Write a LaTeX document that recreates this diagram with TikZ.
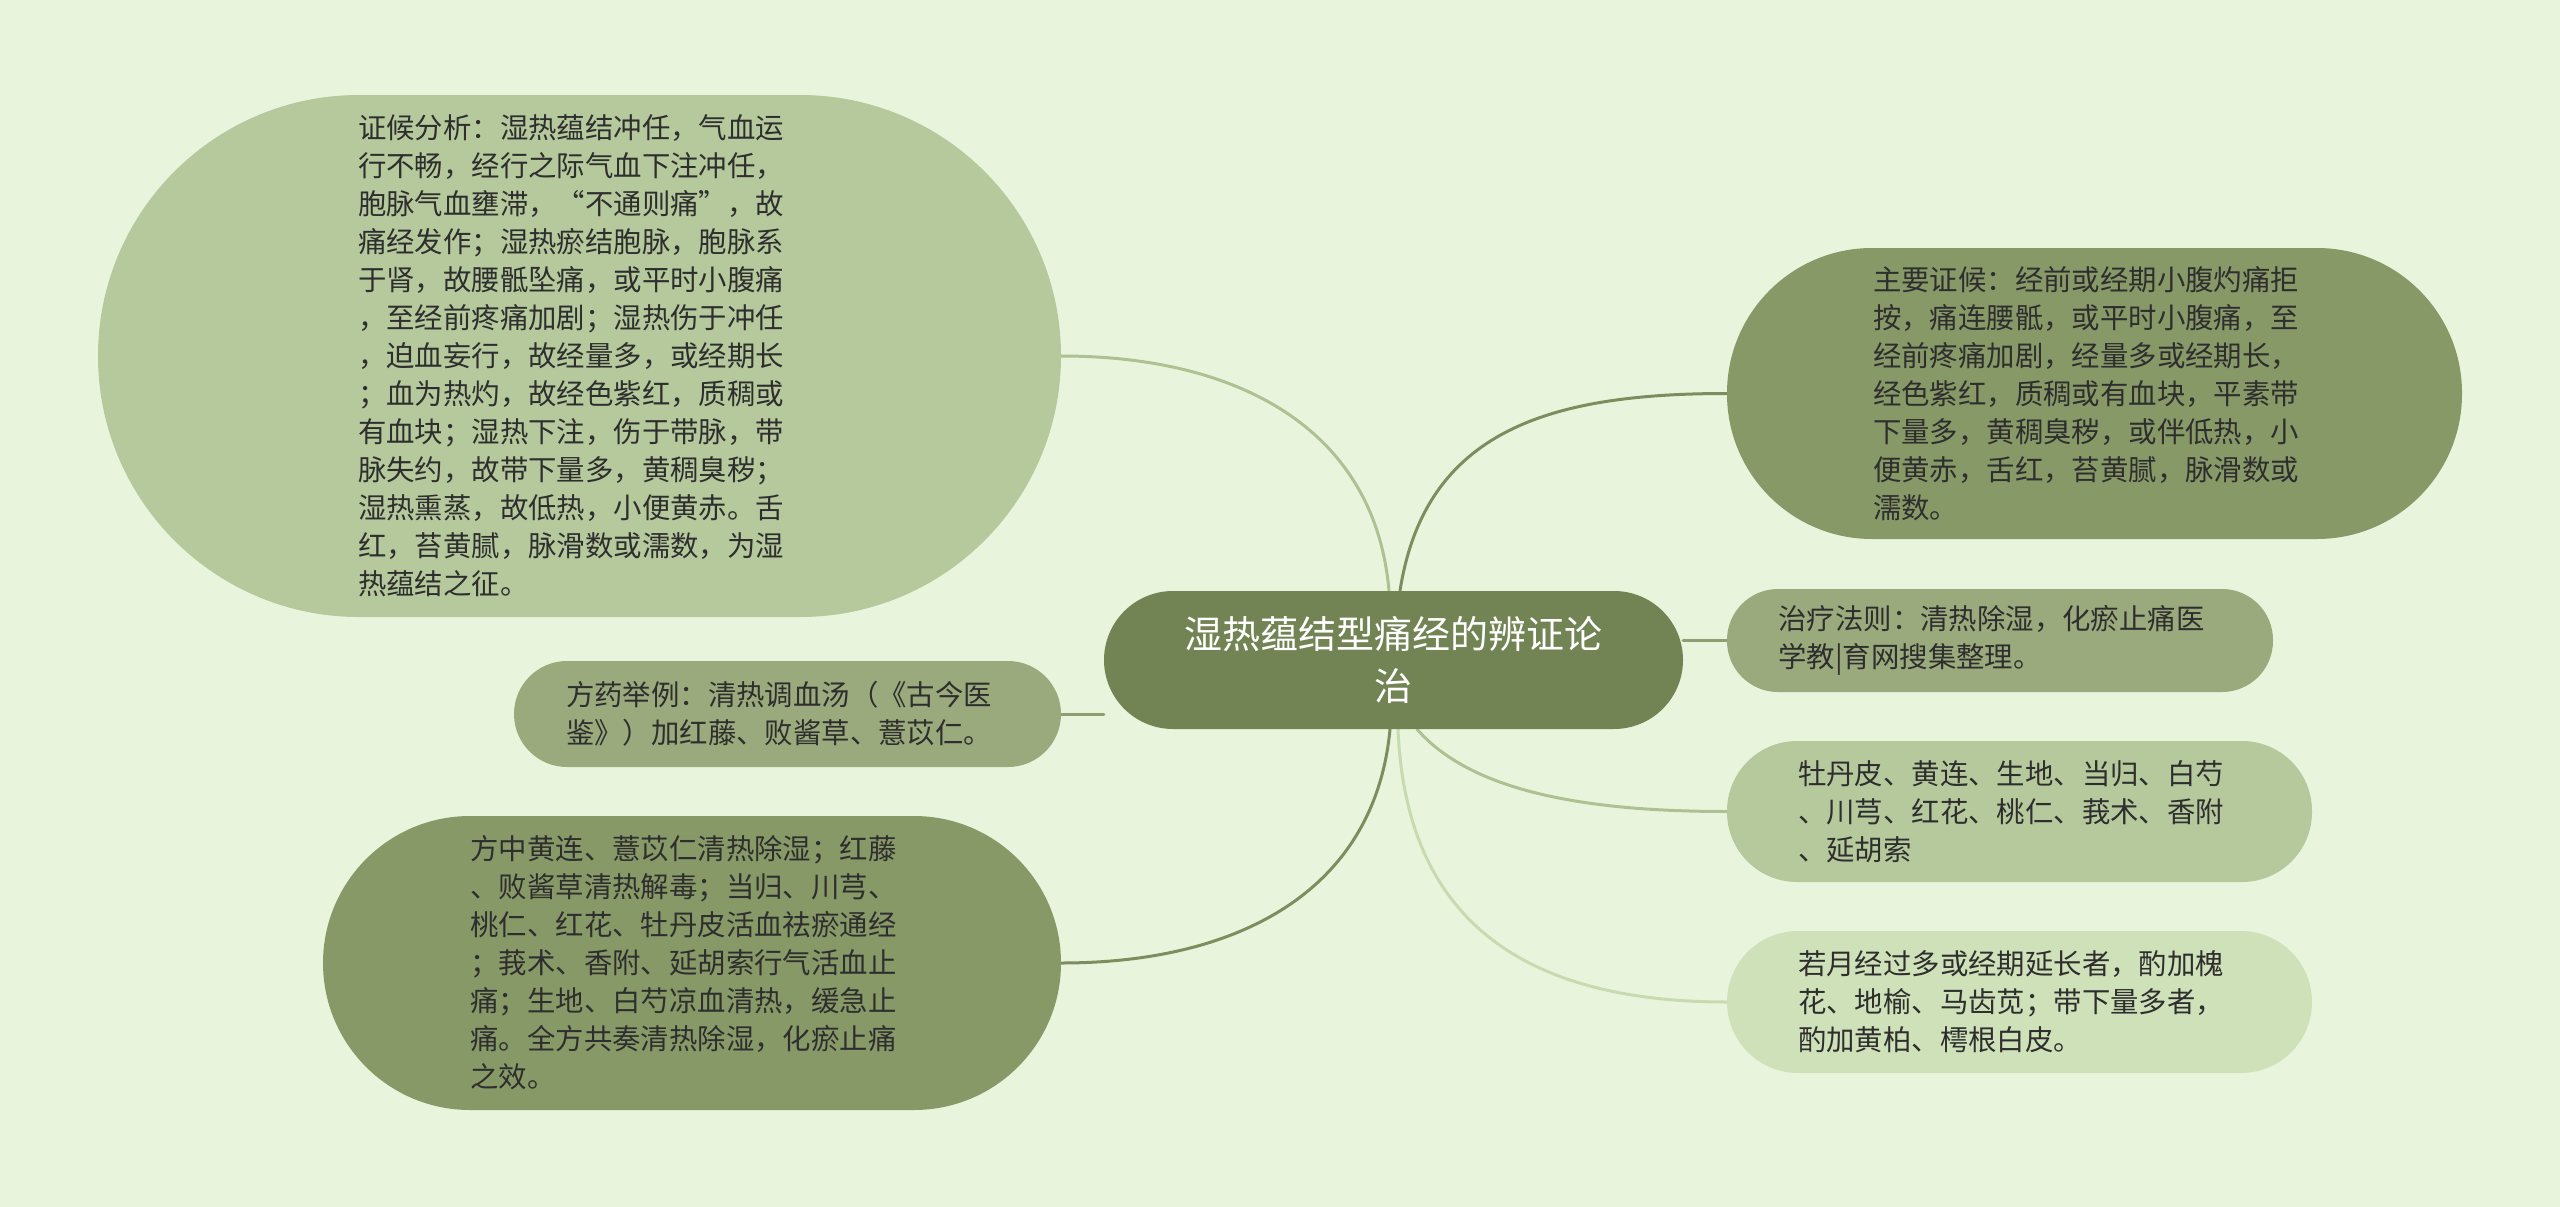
\documentclass[tikz,border=0pt]{standalone}
\usepackage{fontspec}
\newfontfamily\cjk{Noto Sans CJK SC}
\usetikzlibrary{backgrounds}
\definecolor{bgc}{HTML}{E8F5DC}
\definecolor{cdark}{HTML}{728354}
\definecolor{ndark}{HTML}{889968}
\definecolor{nmid}{HTML}{9AAA7C}
\definecolor{nlight}{HTML}{B5C99C}
\definecolor{nlightest}{HTML}{CFE1B9}
\definecolor{ldark}{HTML}{7E8D5E}
\definecolor{lmid}{HTML}{8E9E70}
\definecolor{llight}{HTML}{AEC192}
\definecolor{llightest}{HTML}{C8DAB0}
\definecolor{txt}{HTML}{2E2E2E}
\tikzset{
  pill/.style={rectangle, rounded corners=#1, inner sep=0pt, align=left, text=txt,
    text width=443pt, font=\cjk\fontsize{28.4}{38}\selectfont},
  conn/.style={line width=3pt, line cap=round},
}
\begin{document}
\begin{tikzpicture}[x=1pt,y=-1pt]
\useasboundingbox (0,0) rectangle (2560,1207);
% central node
\node[rectangle, rounded corners=69pt, inner sep=0pt, fill=cdark, text=white, align=center, minimum width=579pt, minimum height=138pt,
  font=\cjk\fontsize{38}{52}\selectfont] (c) at (1393.5,660) {湿热蕴结型痛经的辨证论\\治};
% left nodes
\node[pill=261pt, fill=nlight, minimum width=963pt, minimum height=522pt] (L1) at (579.5,356) {证候分析：湿热蕴结冲任，气血运\\行不畅，经行之际气血下注冲任，\\胞脉气血壅滞，“不通则痛”，故\\痛经发作；湿热瘀结胞脉，胞脉系\\于肾，故腰骶坠痛，或平时小腹痛\\，至经前疼痛加剧；湿热伤于冲任\\，迫血妄行，故经量多，或经期长\\；血为热灼，故经色紫红，质稠或\\有血块；湿热下注，伤于带脉，带\\脉失约，故带下量多，黄稠臭秽；\\湿热熏蒸，故低热，小便黄赤。舌\\红，苔黄腻，脉滑数或濡数，为湿\\热蕴结之征。};
\node[pill=53pt, fill=nmid, minimum width=547pt, minimum height=106pt] (L2) at (787.5,714) {方药举例：清热调血汤（《古今医\\鉴》）加红藤、败酱草、薏苡仁。};
\node[pill=147pt, fill=ndark, minimum width=738pt, minimum height=294pt] (L3) at (692,963) {方中黄连、薏苡仁清热除湿；红藤\\、败酱草清热解毒；当归、川芎、\\桃仁、红花、牡丹皮活血祛瘀通经\\；莪术、香附、延胡索行气活血止\\痛；生地、白芍凉血清热，缓急止\\痛。全方共奏清热除湿，化瘀止痛\\之效。};
% right nodes
\node[pill=145pt, fill=ndark, minimum width=735pt, minimum height=291pt] (R1) at (2094.5,393.5) {主要证候：经前或经期小腹灼痛拒\\按，痛连腰骶，或平时小腹痛，至\\经前疼痛加剧，经量多或经期长，\\经色紫红，质稠或有血块，平素带\\下量多，黄稠臭秽，或伴低热，小\\便黄赤，舌红，苔黄腻，脉滑数或\\濡数。};
\node[pill=51pt, fill=nmid, minimum width=546pt, minimum height=103pt] (R2) at (2000,640.5) {治疗法则：清热除湿，化瘀止痛医\\学教|育网搜集整理。};
\node[pill=70pt, fill=nlight, minimum width=585pt, minimum height=141pt] (R3) at (2019.5,811.5) {牡丹皮、黄连、生地、当归、白芍\\、川芎、红花、桃仁、莪术、香附\\、延胡索};
\node[pill=71pt, fill=nlightest, minimum width=585pt, minimum height=142pt] (R4) at (2019.5,1002) {若月经过多或经期延长者，酌加槐\\花、地榆、马齿苋；带下量多者，\\酌加黄柏、樗根白皮。};
\begin{pgfonlayer}{background}
\fill[bgc] (0,0) rectangle (2560,1207);
\draw[conn, llight] ([xshift=-4.5pt]c.north) .. controls (1375,430) and (1240,356) .. (L1.east);
\draw[conn, lmid] (L2.east) -- (c.west |- L2.east);
\draw[conn, ldark] ([xshift=-3.5pt]c.south) .. controls (1375,890) and (1240,963) .. (L3.east);
\draw[conn, ldark] ([xshift=6.5pt]c.north) .. controls (1425,430) and (1550,393.5) .. (R1.west);
\draw[conn, lmid] (c.east |- R2.west) -- (R2.west);
\draw[conn, llight] ([xshift=23.5pt]c.south) .. controls (1470,790) and (1580,811.5) .. (R3.west);
\draw[conn, llightest] ([xshift=4.5pt]c.south) .. controls (1405,900) and (1500,1002) .. (R4.west);
\end{pgfonlayer}
\end{tikzpicture}
\end{document}
